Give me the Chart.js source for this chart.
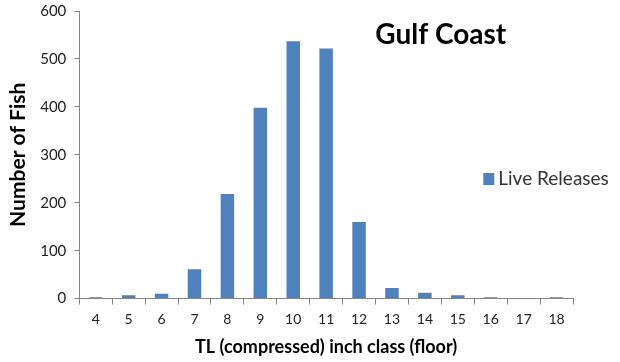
<!DOCTYPE html>
<html>
<head>
<meta charset="utf-8">
<script src="https://cdn.jsdelivr.net/npm/chart.js@4/dist/chart.umd.min.js"></script>
<style>
  html, body { margin: 0; padding: 0; background: #fff; }
  #wrap { width: 620px; height: 362px; }
</style>
</head>
<body>
<div id="wrap"><canvas id="c" width="620" height="362"></canvas></div>
<script>
// Inch classes (total length, compressed, floor)
const inchClasses = ['4', '5', '6', '7', '8', '9', '10', '11', '12', '13', '14', '15', '16', '17', '18'];
// Number of fish released alive per inch class
const liveReleases = [3, 7, 10, 61, 218, 398, 537, 522, 160, 22, 12, 7, 3, 0, 3];
const yTicks = [0, 100, 200, 300, 400, 500, 600];

const chartTitle = 'Gulf Coast';
const seriesName = 'Live Releases';
const barColor = '#4F81BD';
const fontFamily = 'Lato, "Open Sans", "Liberation Sans", sans-serif';

// Title and legend sit inside the plot area, drawn relative to chartArea
const overlayPlugin = {
  id: 'overlay',
  afterDraw(chart) {
    const ctx = chart.ctx;
    const a = chart.chartArea;
    ctx.save();
    ctx.fillStyle = '#000';
    ctx.font = 'bold 28px ' + fontFamily;
    ctx.textBaseline = 'middle';
    ctx.textAlign = 'left';
    ctx.fillText(chartTitle, a.left + 296, a.top + 24);

    ctx.fillStyle = barColor;
    ctx.fillRect(a.left + 404, a.top + 162, 11, 12);
    ctx.fillStyle = '#333';
    ctx.font = '19px ' + fontFamily;
    ctx.fillText(seriesName, a.left + 419, a.top + 168);
    ctx.restore();
  }
};

new Chart(document.getElementById('c'), {
  type: 'bar',
  data: {
    labels: inchClasses,
    datasets: [{
      label: seriesName,
      data: liveReleases,
      backgroundColor: barColor,
      borderWidth: 0,
      barPercentage: 0.41,
      categoryPercentage: 1.0
    }]
  },
  options: {
    responsive: false,
    animation: false,
    devicePixelRatio: 1,
    layout: { padding: { top: 11, right: 47, left: 0, bottom: 4 } },
    plugins: {
      legend: { display: false },
      tooltip: { enabled: false }
    },
    scales: {
      x: {
        grid: {
          offset: true,
          drawOnChartArea: false,
          drawTicks: true,
          tickLength: 6,
          color: '#868686'
        },
        border: { color: '#868686', width: 1 },
        ticks: {
          color: '#222',
          font: { family: fontFamily, size: 14 },
          padding: 6,
          maxRotation: 0
        },
        title: {
          display: true,
          text: 'TL (compressed) inch class (floor)',
          color: '#000',
          font: { family: fontFamily, size: 18, weight: 'bold' },
          padding: { top: 3, bottom: 0 }
        }
      },
      y: {
        min: 0,
        max: 600,
        afterBuildTicks(scale) {
          scale.ticks = yTicks.map(v => ({ value: v }));
        },
        // the top label may run into the padding; the plot edge is set by layout padding
        afterFit(scale) {
          scale.paddingTop = 0;
        },
        grid: {
          drawOnChartArea: false,
          drawTicks: true,
          tickLength: 5,
          color: '#868686'
        },
        border: { color: '#868686', width: 1 },
        ticks: {
          color: '#222',
          font: { family: fontFamily, size: 15 },
          padding: 8
        },
        title: {
          display: true,
          text: 'Number of Fish',
          color: '#000',
          font: { family: fontFamily, size: 21, weight: 'bold' },
          padding: { top: 6, bottom: 1 }
        }
      }
    }
  },
  plugins: [overlayPlugin]
});
</script>
</body>
</html>
